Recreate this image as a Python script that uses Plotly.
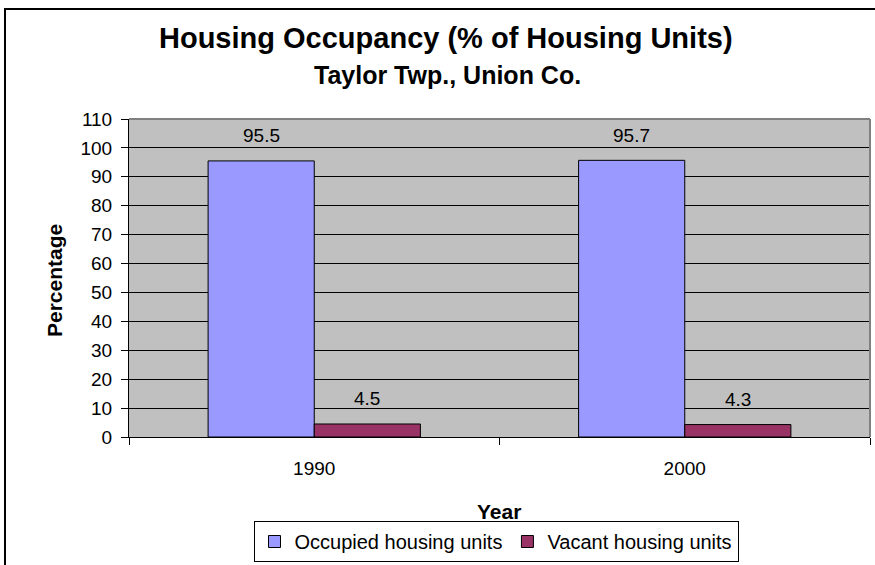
import plotly.graph_objects as go

years = ["1990", "2000"]
occupied = [95.5, 95.7]
vacant = [4.5, 4.3]
series_names = ["Occupied housing units", "Vacant housing units"]
y_ticks = list(range(0, 111, 10))

FONT = "Liberation Sans, Arial, sans-serif"
colors = ["#9999FF", "#993366"]

fig = go.Figure()
for name, vals, col in zip(series_names, [occupied, vacant], colors):
    fig.add_trace(go.Bar(x=years, y=vals, name=name, hoverinfo="skip",
                         marker=dict(color=col, line=dict(color="black", width=1))))

# data labels (category axis positions are serial indices)
for vals, sh in zip([occupied, vacant], [-53, 53]):
    for idx, v in enumerate(vals):
        fig.add_annotation(x=idx, y=v, text=f"{v}", showarrow=False, xref="x", yref="y",
                           xshift=sh, yshift=25, font=dict(family=FONT, size=19, color="black"))

W, H = 875, 565
L, R, T, B = 129, 5, 119, 128
pw, ph = W - L - R, H - T - B

def px_x(p):
    return (p - L) / pw

def px_y(p):
    return (H - B - p) / ph

fig.add_annotation(text="<b>Housing Occupancy (% of Housing Units)</b>", xref="paper", yref="paper",
                   x=px_x(446), y=px_y(38), showarrow=False, xanchor="center", yanchor="middle",
                   font=dict(family=FONT, size=29, color="black"))
fig.add_annotation(text="<b>Taylor Twp., Union Co.</b>", xref="paper", yref="paper",
                   x=px_x(447), y=px_y(75), showarrow=False, xanchor="center", yanchor="middle",
                   font=dict(family=FONT, size=25, color="black"))
fig.add_annotation(text="<b>Year</b>", xref="paper", yref="paper",
                   x=px_x(499), y=px_y(511), showarrow=False, xanchor="center", yanchor="middle",
                   font=dict(family=FONT, size=21, color="black"))
fig.add_annotation(text="<b>Percentage</b>", xref="paper", yref="paper", textangle=-90,
                   x=px_x(54), y=px_y(281), showarrow=False, xanchor="center", yanchor="middle",
                   font=dict(family=FONT, size=21, color="black"))

# plot-area top/right border (gray) and outer chart frame
fig.add_shape(type="line", xref="paper", yref="paper", x0=0, x1=1, y0=1, y1=1,
              line=dict(color="#808080", width=2), layer="above")
fig.add_shape(type="line", xref="paper", yref="paper", x0=1, x1=1, y0=0, y1=1,
              line=dict(color="#808080", width=2), layer="above")
fig.add_shape(type="rect", xref="paper", yref="paper", x0=px_x(5), x1=px_x(900),
              y0=px_y(600), y1=px_y(9), line=dict(color="black", width=2), layer="above")

fig.update_layout(
    width=W, height=H,
    margin=dict(l=L, r=R, t=T, b=B, autoexpand=False),
    paper_bgcolor="white", plot_bgcolor="#C0C0C0",
    barmode="group", bargap=0.427, bargroupgap=0,
    font=dict(family=FONT, size=19, color="black"),
    showlegend=True, hovermode=False,
    legend=dict(orientation="h", x=px_x(496), xanchor="center", y=px_y(521), yanchor="top",
                bordercolor="black", borderwidth=1, bgcolor="white",
                font=dict(family=FONT, size=20, color="black"), itemwidth=30),
    xaxis=dict(type="category", showline=True, linecolor="black", linewidth=1,
               ticks="outside", ticklen=7, tickcolor="black", tickson="boundaries",
               ticklabelstandoff=14, showgrid=False, tickfont=dict(size=19),
               automargin=False),
    yaxis=dict(range=[0, 110], tickvals=y_ticks, showline=True, linecolor="black", linewidth=1,
               ticks="outside", ticklen=7, tickcolor="black", ticklabelstandoff=5,
               showgrid=True, gridcolor="black", gridwidth=1, zeroline=False,
               tickfont=dict(size=19), automargin=False),
)

fig.write_html("out.html", config={"displayModeBar": False},
               post_script="document.body.style.margin='0';document.body.style.overflow='hidden';")
